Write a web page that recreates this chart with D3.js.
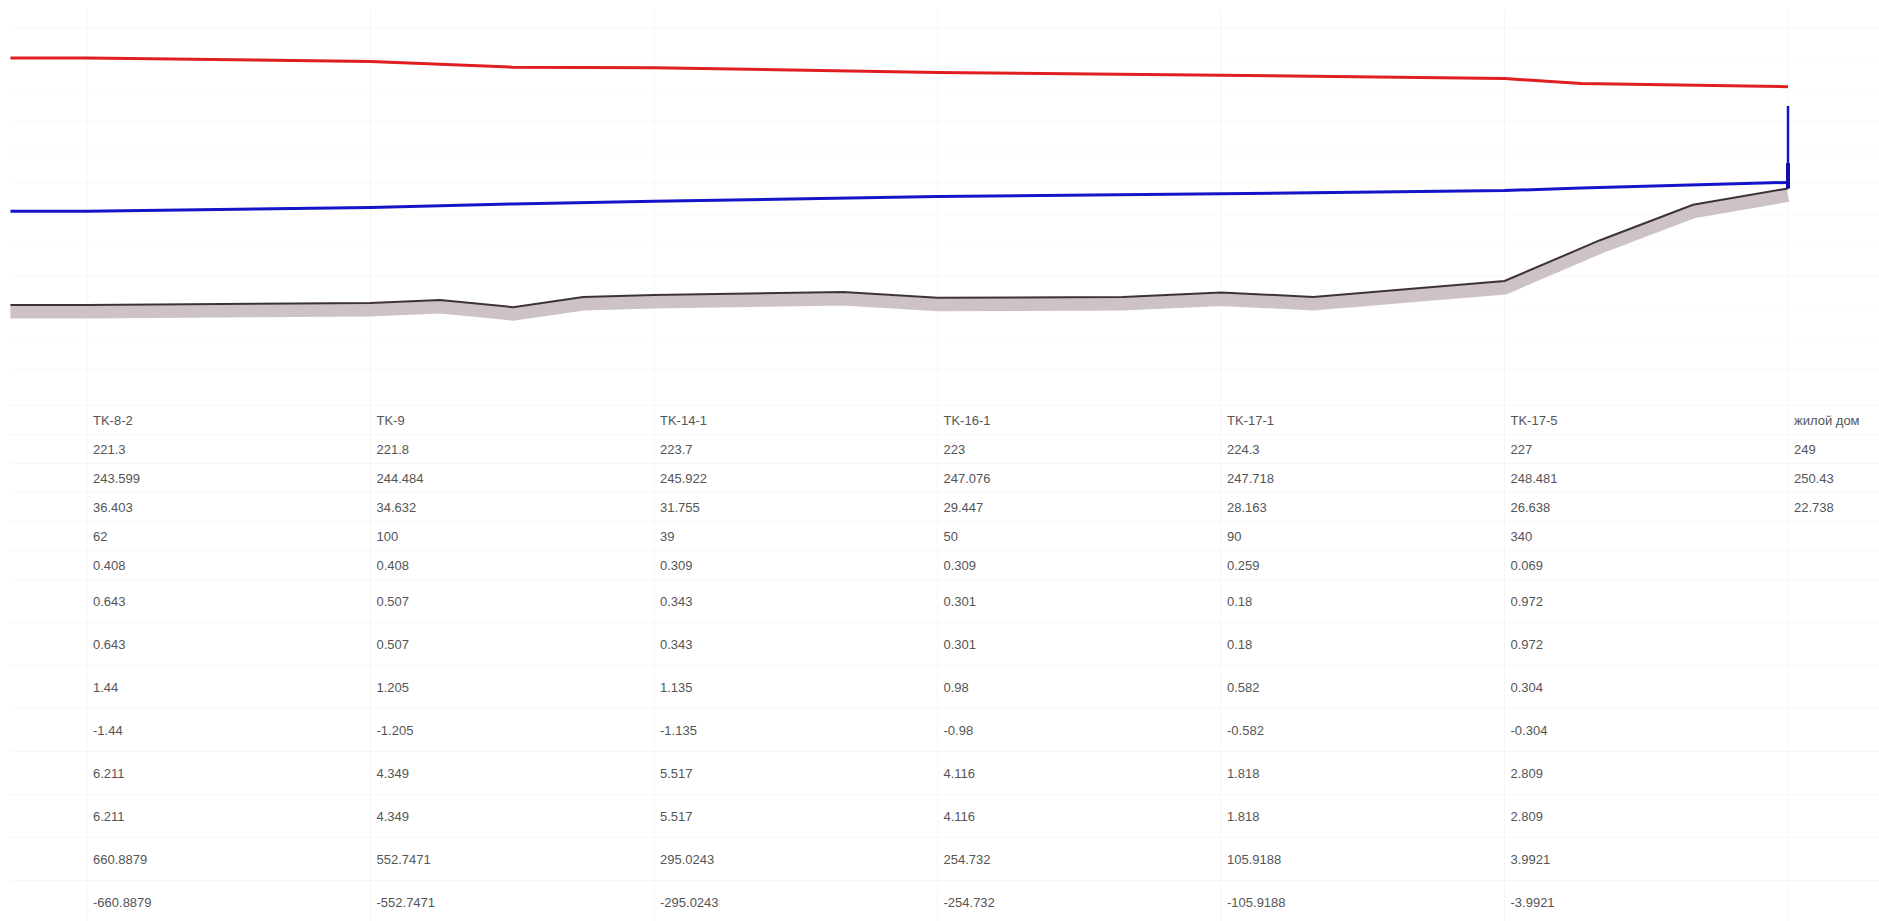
<!DOCTYPE html>
<html>
<head>
<meta charset="utf-8">
<script src="https://cdn.jsdelivr.net/npm/d3@7"></script>
<style>
  body { margin: 0; background: #fff; }
  text { font-family: "Liberation Sans", Arial, sans-serif; }
</style>
</head>
<body>
<script>
// узлы и табличные данные
var nodes = ["TK-8-2", "TK-9", "TK-14-1", "TK-16-1", "TK-17-1", "TK-17-5", "жилой дом"];
var groundElev = [221.3, 221.8, 223.7, 223, 224.3, 227, 249];
var returnElev = [243.599, 244.484, 245.922, 247.076, 247.718, 248.481, 250.43];
var headDiff = [36.403, 34.632, 31.755, 29.447, 28.163, 26.638, 22.738];
var lengths = [62, 100, 39, 50, 90, 340];
var diameters = [0.408, 0.408, 0.309, 0.309, 0.259, 0.069];
var speedSupply = [0.643, 0.507, 0.343, 0.301, 0.18, 0.972];
var speedReturn = [0.643, 0.507, 0.343, 0.301, 0.18, 0.972];
var lossSupply = [1.44, 1.205, 1.135, 0.98, 0.582, 0.304];
var lossReturn = [-1.44, -1.205, -1.135, -0.98, -0.582, -0.304];
var slopeSupply = [6.211, 4.349, 5.517, 4.116, 1.818, 2.809];
var slopeReturn = [6.211, 4.349, 5.517, 4.116, 1.818, 2.809];
var flowSupply = [660.8879, 552.7471, 295.0243, 254.732, 105.9188, 3.9921];
var flowReturn = [-660.8879, -552.7471, -295.0243, -254.732, -105.9188, -3.9921];

// профиль (позиция в долях узлов)
var headPos = [-0.27, 0, 1, 1.5, 2, 3, 4, 5, 5.27, 6];
var supplyHead = [280.002, 280.002, 279.116, 277.8, 277.677, 276.523, 275.881, 275.119, 273.9, 273.168];
var returnHead = [243.599, 243.599, 244.484, 245.3, 245.922, 247.076, 247.718, 248.481, 249.1, 250.43];

var groundPos = [-0.27, 0, 1, 1.245, 1.503, 1.75, 2, 2.667, 3, 3.654, 4, 4.325, 5, 5.337, 5.665, 6];
var groundProfile = [221.3, 221.3, 221.8, 222.5, 220.8, 223.2, 223.7, 224.4, 223, 223.2, 224.3, 223.2, 227, 236.7, 245.1, 249];

var riserPos = 6;
var riserLevels = [249, 268.6];
var riserBase = [249, 255.0];

var width = 1879, height = 921;
var svg = d3.select("body").append("svg").attr("width", width).attr("height", height);
svg.append("rect").attr("width", width).attr("height", height).attr("fill", "#fff");

var x = d3.scaleLinear().domain([0, 6]).range([87, 1788]);
var y = d3.scaleLinear().domain([210, 290]).range([352.6, 15.8]);

// фоновая сетка
var grid = svg.append("g");
grid.selectAll("line.h")
    .data(d3.range(28, 400, 31))
    .enter().append("line")
    .attr("x1", 10).attr("x2", width)
    .attr("y1", function(d) { return d; }).attr("y2", function(d) { return d; })
    .attr("stroke", "#f8f8f8").attr("stroke-width", 1);

var rowH = [29, 29, 29, 29, 29, 29, 43, 43, 43, 43, 43, 43, 43, 43];
var tableTop = 405.5;
var rowTops = [];
var acc = tableTop;
rowH.forEach(function(h) { rowTops.push(acc); acc += h; });

grid.selectAll("line.r")
    .data(rowTops.concat([acc]))
    .enter().append("line")
    .attr("x1", 10).attr("x2", width)
    .attr("y1", function(d) { return d; }).attr("y2", function(d) { return d; })
    .attr("stroke", "#f7f7f7").attr("stroke-width", 1);

grid.selectAll("line.v")
    .data(d3.range(nodes.length))
    .enter().append("line")
    .attr("x1", function(d) { return x(d); }).attr("x2", function(d) { return x(d); })
    .attr("y1", 10).attr("y2", height)
    .attr("stroke", "#f6f6f6").attr("stroke-width", 1);

// линии
var line = d3.line()
    .x(function(d) { return x(d[0]); })
    .y(function(d) { return y(d[1]); });

var groundData = d3.zip(groundPos, groundProfile);

svg.append("path")
    .datum(groundData)
    .attr("d", line)
    .attr("transform", "translate(0,7)")
    .attr("fill", "none")
    .attr("stroke", "#cdc3c4")
    .attr("stroke-width", 13);

svg.append("path")
    .datum(groundData)
    .attr("d", line)
    .attr("fill", "none")
    .attr("stroke", "#3d3334")
    .attr("stroke-width", 2);

svg.append("path")
    .datum(d3.zip(headPos, supplyHead))
    .attr("d", line)
    .attr("fill", "none")
    .attr("stroke", "#e01e22")
    .attr("stroke-width", 3);

svg.append("path")
    .datum(d3.zip(headPos, returnHead))
    .attr("d", line)
    .attr("fill", "none")
    .attr("stroke", "#1414c8")
    .attr("stroke-width", 3);

svg.append("line")
    .attr("x1", x(riserPos)).attr("x2", x(riserPos))
    .attr("y1", y(riserLevels[0])).attr("y2", y(riserLevels[1]))
    .attr("stroke", "#1414c8").attr("stroke-width", 2.5);

svg.append("line")
    .attr("x1", x(riserPos)).attr("x2", x(riserPos))
    .attr("y1", y(riserBase[0])).attr("y2", y(riserBase[1]))
    .attr("stroke", "#1010b0").attr("stroke-width", 4);

// таблица
var rows = [nodes, groundElev, returnElev, headDiff, lengths, diameters,
            speedSupply, speedReturn, lossSupply, lossReturn,
            slopeSupply, slopeReturn, flowSupply, flowReturn];

var table = svg.append("g").attr("font-size", 13).attr("fill", "#555");
rows.forEach(function(vals, r) {
  table.selectAll(null)
      .data(vals)
      .enter().append("text")
      .attr("x", function(d, i) { return x(i) + 6; })
      .attr("y", rowTops[r] + rowH[r] / 2 + 4.5)
      .text(function(d) { return String(d); });
});
</script>
</body>
</html>
